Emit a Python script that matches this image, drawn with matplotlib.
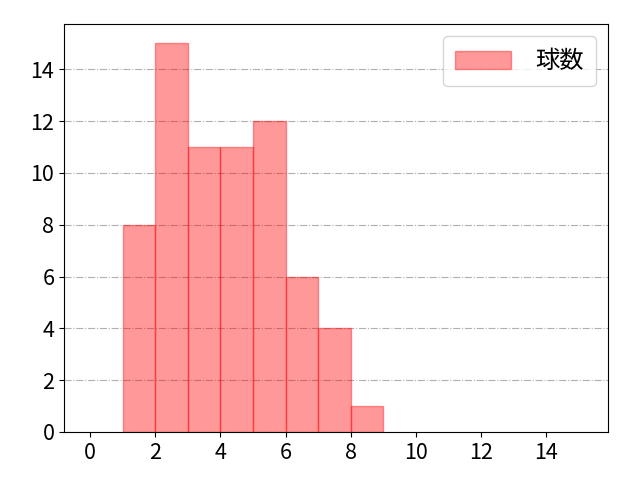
import matplotlib.pyplot as plt

plt.rcParams['font.family'] = ['Noto Sans CJK JP', 'DejaVu Sans']

# histogram of pitch counts
bin_left = [1, 2, 3, 4, 5, 6, 7, 8]
counts = [8, 15, 11, 11, 12, 6, 4, 1]
xticks = [0, 2, 4, 6, 8, 10, 12, 14]
yticks = [0, 2, 4, 6, 8, 10, 12, 14]

fig, ax = plt.subplots(figsize=(6.4, 4.8), dpi=100)
fig.subplots_adjust(left=0.1, right=0.95, bottom=0.1, top=0.95)

ax.bar(bin_left, counts, width=1, align='edge', color='red', alpha=0.4,
       edgecolor='red', linewidth=1, label='球数')

ax.set_xlim(-0.8, 15.9)
ax.set_ylim(0, 15.75)
ax.set_xticks(xticks)
ax.set_yticks(yticks)
ax.tick_params(labelsize=15.5)
ax.grid(axis='y', linestyle='-.', color='#b0b0b0', linewidth=0.8)
ax.set_axisbelow(True)
ax.legend(loc='upper right', fontsize=17.5, handlelength=2.3, handleheight=0.8,
          handletextpad=1.0, borderpad=0.5)

fig.savefig('out.png')
